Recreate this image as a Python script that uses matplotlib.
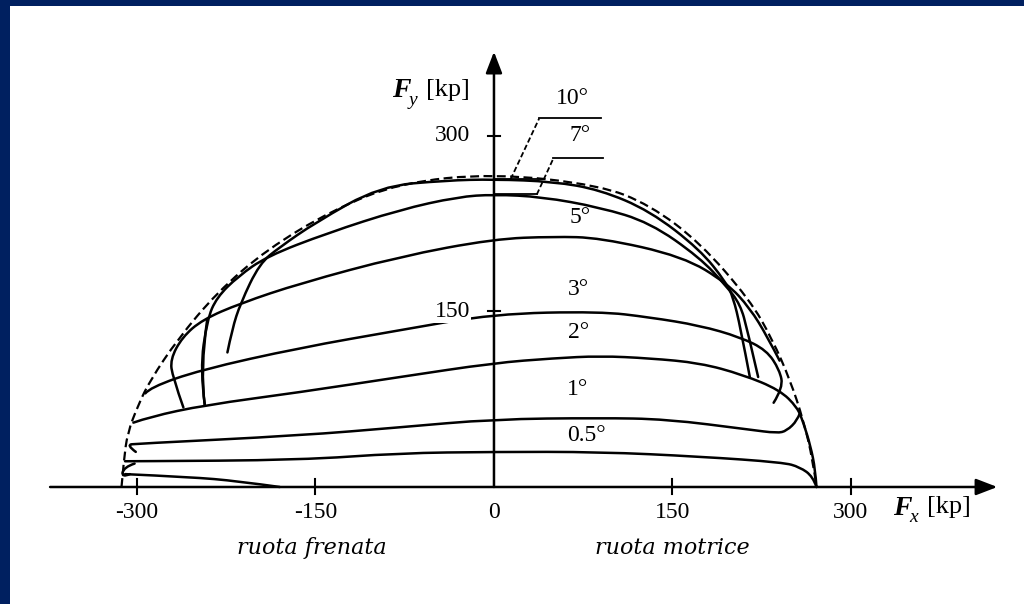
import matplotlib.pyplot as plt
from matplotlib.patches import Rectangle, PathPatch
from matplotlib.path import Path

# friction envelope (dashed) and curves of constant slip angle, forces in kp
env_fx = [-313, -311, -308, -299, -289, -266, -233, -191, -135, -79, 0, 89, 131, 173, 215, 234, 249, 260, 268, 271]
env_fy = [0, 23, 46, 70, 91, 126, 166, 203, 237, 260, 268, 258, 241, 209, 160, 126, 91, 57, 23, 0]

fx_10 = [-224, -220, -213, -197, -180, -150, -96, -40, 0, 50, 89, 131, 173, 195, 201, 207, 215]
fy_10 = [115, 135, 157, 191, 205, 226, 257, 262, 263, 261, 254, 236, 203, 175, 162, 137, 94]

fx_7 = [-243, -247, -241, -233, -215, -191, -140, -79, -30, 0, 40, 89, 131, 173, 195, 207, 213, 222]
fy_7 = [70, 100, 143, 162, 180, 197, 217, 237, 248, 250, 248, 239, 226, 196, 172, 156, 134, 94]

fx_5 = [-261, -270, -272, -262, -245, -213, -163, -79, 0, 50, 89, 159, 196, 215, 230, 240]
fy_5 = [68, 94, 109, 128, 143, 157, 174, 197, 212, 214, 213, 197, 174, 153, 128, 108]

fx_3 = [-293, -289, -247, -163, -79, 0, 89, 131, 173, 207, 229, 240, 243, 235]
fy_3 = [80, 85, 100, 119, 134, 148, 150, 145, 138, 128, 117, 100, 85, 72]

fx_2 = [-303, -289, -243, -163, -79, 0, 50, 89, 131, 173, 209, 240, 255, 260, 266, 270, 271]
fy_2 = [55, 60, 70, 81, 94, 106, 110, 112, 110, 106, 96, 83, 68, 55, 35, 15, 0]

fx_1 = [-301, -309, -300, -163, -79, 0, 89, 145, 215, 238, 246, 255, 257]
fy_1 = [30, 36, 37, 44, 51, 58, 59, 58, 49, 46, 48, 57, 63]

fx_05 = [-310, -300, -163, -79, 0, 89, 173, 243, 257, 268, 271]
fy_05 = [22, 22, 23, 29, 30, 30, 26, 21, 17, 9, 0]

fx_0 = [-310, -255, -215, -180]
fy_0 = [11, 8.5, 5, 0]

loop_fx = [-302, -311, -313, -306]
loop_fy = [20, 17, 8, 11]

# curve of constant longitudinal slip on the braking side
slip_a_fx = [-241, -247, -243]
slip_a_fy = [143, 100, 70]

curves = [(fx_10, fy_10), (fx_7, fy_7), (fx_5, fy_5), (fx_3, fy_3), (fx_2, fy_2),
          (fx_1, fy_1), (fx_05, fy_05), (fx_0, fy_0), (loop_fx, loop_fy),
          (slip_a_fx, slip_a_fy)]

alpha_labels = ['10°', '7°', '5°', '3°', '2°', '1°', '0.5°']
label_x = [66, 72, 72, 71, 71, 70, 78]
label_y = [332, 300, 230, 169, 132, 83, 44]

x_ticks = [-300, -150, 0, 150, 300]
y_ticks = [150, 300]


def rounded_path(xs, ys):
    # polyline with its corners rounded off by quadratic segments
    pts = list(zip(xs, ys))
    if len(pts) < 3:
        return Path(pts)
    verts = [pts[0]]
    codes = [Path.MOVETO]
    for i in range(1, len(pts) - 1):
        mid = ((pts[i][0] + pts[i + 1][0]) / 2, (pts[i][1] + pts[i + 1][1]) / 2)
        if i == len(pts) - 2:
            mid = pts[-1]
        verts += [pts[i], mid]
        codes += [Path.CURVE3, Path.CURVE3]
    return Path(verts, codes)


fig = plt.figure(figsize=(10.24, 6.04), dpi=100)
ax = fig.add_axes([0, 0, 1, 1])
ax.set_xlim(-415.1, 445.4)
ax.set_ylim(-100.0, 416.2)
ax.axis('off')

serif = 'Liberation Serif'

# axes with arrow heads
arr = dict(arrowstyle='-|>,head_length=0.65,head_width=0.25', lw=1.8, color='k',
           shrinkA=0, shrinkB=0, mutation_scale=20)
ax.annotate('', xy=(423, 0), xytext=(-373, 0), arrowprops=arr)
ax.annotate('', xy=(0, 372), xytext=(0, 0), arrowprops=arr)

for t in x_ticks:
    if t != 0:
        ax.plot([t, t], [-6, 7], color='k', lw=1.5)
    ax.text(t, -22, f'{t}', ha='center', va='center', fontsize=17, family=serif)
for t in y_ticks:
    ax.plot([-5, 5], [t, t], color='k', lw=1.5)
    ax.text(-35, t, f'{t}', ha='center', va='center', fontsize=17, family=serif,
            bbox=dict(facecolor='white', edgecolor='none', pad=1), zorder=5)

# axis titles
ax.text(-86, 339, 'F', fontsize=20, family=serif, weight='bold', style='italic', va='center')
ax.text(-72, 330, 'y', fontsize=14, family=serif, style='italic', va='center')
ax.text(-57, 339, '[kp]', fontsize=19, family=serif, va='center')
ax.text(335, -18, 'F', fontsize=20, family=serif, weight='bold', style='italic', va='center')
ax.text(349, -26, 'x', fontsize=14, family=serif, style='italic', va='center')
ax.text(364, -17, '[kp]', fontsize=19, family=serif, va='center')

ax.text(-153, -52, 'ruota frenata', fontsize=16, family='DejaVu Serif', style='italic',
        ha='center', va='center')
ax.text(150, -52, 'ruota motrice', fontsize=16, family='DejaVu Serif', style='italic',
        ha='center', va='center')

# envelope and slip-angle curves
ax.add_patch(PathPatch(rounded_path(env_fx, env_fy), fill=False, edgecolor='k',
                       lw=1.6, linestyle=(0, (4, 2))))
for fx, fy in curves:
    ax.add_patch(PathPatch(rounded_path(fx, fy), fill=False, edgecolor='k', lw=1.8,
                           capstyle='round', joinstyle='round'))

for lab, lx, ly in zip(alpha_labels, label_x, label_y):
    ax.text(lx, ly, lab, ha='center', va='center', fontsize=17, family=serif)

# leaders for the 10 and 7 degree labels
ax.plot([0, 41], [263, 263], color='k', lw=1.3)
ax.plot([0, 36], [250, 250], color='k', lw=1.3)
ax.plot([14, 38], [263, 315], color='k', lw=1.3, dashes=(3, 1.5))
ax.plot([38, 90], [315, 315], color='k', lw=1.3)
ax.plot([36, 50], [250, 281], color='k', lw=1.3, dashes=(3, 1.5))
ax.plot([50, 92], [281, 281], color='k', lw=1.3)

# slide frame
navy = '#002060'
fig.patches.append(Rectangle((0, 0), 10 / 1024, 1, transform=fig.transFigure,
                             facecolor=navy, edgecolor='none', zorder=10))
fig.patches.append(Rectangle((0, 1 - 6 / 604), 1, 6 / 604, transform=fig.transFigure,
                             facecolor=navy, edgecolor='none', zorder=10))

fig.savefig('out.png', dpi=100)
